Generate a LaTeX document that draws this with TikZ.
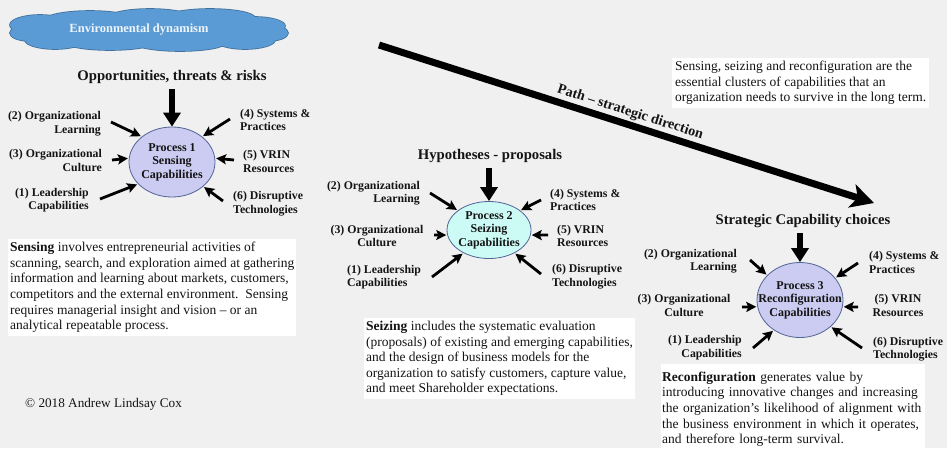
\documentclass[tikz,border=0pt]{standalone}
\usepackage{fontspec}
\setmainfont{Liberation Serif}
\usetikzlibrary{arrows.meta,shapes.geometric}

\definecolor{bg}{RGB}{240,240,240}
\definecolor{cloudfill}{RGB}{91,155,213}
\definecolor{cloudline}{RGB}{65,113,156}
\definecolor{lav}{RGB}{204,204,242}
\definecolor{cyanfill}{RGB}{204,250,245}
\definecolor{ellline}{RGB}{80,100,150}
\definecolor{ink}{RGB}{20,20,20}

\tikzset{
  lbl/.style={font=\fontsize{11.8}{13.5}\selectfont\bfseries, inner sep=0pt, text=ink},
  ttl/.style={font=\fontsize{14.7}{17}\selectfont\bfseries, inner sep=0pt, text=ink},
  body/.style={font=\fontsize{13.5}{15.6}\selectfont, align=left, fill=white, text=ink,
    inner xsep=2pt, inner ysep=3pt, anchor=north west},
  proc/.style={ellipse, draw=ellline, line width=0.8pt, inner sep=0pt},
  proctext/.style={align=center, inner sep=0pt, text=ink, font=\fontsize{12}{13.5}\selectfont\bfseries},
  feed/.style={line width=2.8pt, -{Stealth[length=10pt,width=10pt,inset=2pt]}, shorten >=1pt},
  drive/.style={line width=6.5pt, -{Triangle[length=14pt,width=17pt]}},
  patharrow/.style={line width=7pt, -{Stealth[length=23pt,width=24pt,inset=6pt]}},
}

% lobes of the cloud outline: centre x, centre y, x radius, y radius
\newcommand\cloudlobes[1]{%
  \foreach \cx/\cy/\rx/\ry in {150/30/120/17, 40/25/30/10, 30/33/20/8, 55/40/30/9,
      90/20/45/9, 150/17/40/8, 210/18/45/9, 255/26/30/9, 268/33/20/8, 245/40/30/9,
      110/42/45/8, 180/43/45/8}
    {#1 (\cx,\cy) ellipse [x radius=\rx, y radius=\ry];}}

\begin{document}
\begin{tikzpicture}[x=1pt,y=-1pt]
  \useasboundingbox (0,0) rectangle (947,448);
  \fill[bg] (0,0) rectangle (947,448);

  % environment cloud: outline of every lobe, then the fill on top leaves the union's edge
  \cloudlobes{\draw[cloudline, line width=1.6pt]}
  \cloudlobes{\fill[cloudfill]}
  \node[font=\fontsize{12.5}{14}\selectfont\bfseries, text=white!90!cloudfill, inner sep=0pt]
        (envtext) at (139,30) {Environmental dynamism};

  % strategic path
  \coordinate (pathS) at (379,45);
  \coordinate (pathE) at (874,203);
  \draw[patharrow] (pathS) -- (pathE)
     node[pos=0.5, sloped, above=2pt, font=\fontsize{14.2}{16}\selectfont\bfseries, text=ink, inner sep=0pt]
     (pathlbl) {Path -- strategic direction};

  \node[body, inner xsep=3pt] (summary) at (672,58)
     {Sensing, seizing and reconfiguration are the\\
      essential clusters of capabilities that an\\
      organization needs to survive in the long term.};

  % ---------------- Process 1 ----------------
  \node[ttl] (t1) at (172,77) {Opportunities, threats \& risks};
  \node[proc, fill=lav, minimum width=86pt, minimum height=70pt] (p1) at (172,162) {};
  \node[proctext] (p1txt) at (p1.center) {Process 1\\Sensing\\Capabilities};
  \draw[drive] (t1.south -| p1.north) ++(0,5) coordinate (d1) (d1) -- (p1.north);

  \node[lbl, anchor=east, align=right] (a2) at (101,123.5) {(2) Organizational\\Learning};
  \node[lbl, anchor=east, align=right] (a3) at (102,160.5) {(3) Organizational\\Culture};
  \node[lbl, anchor=east, align=right] (a1) at (89,200) {(1) Leadership\\Capabilities};
  \node[lbl, anchor=west, align=left] (a4) at (240,120) {(4) Systems \&\\Practices};
  \node[lbl, anchor=west, align=left] (a5) at (243,161.5) {(5) VRIN\\Resources};
  \node[lbl, anchor=west, align=left] (a6) at (233,203.5) {(6) Disruptive\\Technologies};

  \coordinate (a2t) at (111,122);  \draw[feed] (a2t) -- (p1.140);
  \coordinate (a3t) at (112,160);  \draw[feed] (a3t) -- (p1.175);
  \coordinate (a1t) at (100,199);  \draw[feed] (a1t) -- (p1.213);
  \coordinate (a4t) at (230,119);  \draw[feed] (a4t) -- (p1.40);
  \coordinate (a5t) at (234,160);  \draw[feed] (a5t) -- (p1.5);
  \coordinate (a6t) at (223,201);  \draw[feed] (a6t) -- (p1.322);

  \node[body] (sensing) at (8,239)
     {\textbf{Sensing} involves entrepreneurial activities of\\
      scanning, search, and exploration aimed at gathering\\
      information and learning about markets, customers,\\
      competitors and the external environment.\ \ Sensing\\
      requires managerial insight and vision -- or an\\
      analytical repeatable process.};

  \node[font=\fontsize{13.2}{15}\selectfont, text=ink, inner sep=0pt, anchor=west]
     (copy) at (25,404) {\textcopyright\ 2018 Andrew Lindsay Cox};

  % ---------------- Process 2 ----------------
  \node[ttl] (t2) at (490,156) {Hypotheses - proposals};
  \node[proc, fill=cyanfill, minimum width=84pt, minimum height=57pt] (p2) at (489,230) {};
  \node[proctext] (p2txt) at (p2.center) {Process 2\\Seizing\\Capabilities};
  \draw[drive] (t2.south -| p2.north) ++(0,5) coordinate (d2) (d2) -- (p2.north);

  \node[lbl, anchor=east, align=right] (b2) at (420,193) {(2) Organizational\\Learning};
  \node[lbl, align=center] (b3) at (377,236) {(3) Organizational\\Culture};
  \node[lbl, anchor=west, align=left] (b1) at (347,277) {(1) Leadership\\Capabilities};
  \node[lbl, anchor=west, align=left] (b4) at (550,200) {(4) Systems \&\\Practices};
  \node[lbl, anchor=west, align=left] (b5) at (557,236) {(5) VRIN\\Resources};
  \node[lbl, anchor=west, align=left] (b6) at (552,276.5) {(6) Disruptive\\Technologies};

  \coordinate (b2t) at (430,193);  \draw[feed] (b2t) -- (p2.148);
  \coordinate (b3t) at (434,235);  \draw[feed] (b3t) -- (p2.187);
  \coordinate (b1t) at (432,277);  \draw[feed] (b1t) -- (p2.222);
  \coordinate (b4t) at (541,200);  \draw[feed] (b4t) -- (p2.32);
  \coordinate (b5t) at (548,235);  \draw[feed] (b5t) -- (p2.353);
  \coordinate (b6t) at (541,274);  \draw[feed] (b6t) -- (p2.318);

  \node[body] (seizing) at (364,318)
     {\textbf{Seizing} includes the systematic evaluation\\
      (proposals) of existing and emerging capabilities,\\
      and the design of business models for the\\
      organization to satisfy customers, capture value,\\
      and meet Shareholder expectations.};

  % ---------------- Process 3 ----------------
  \node[ttl] (t3) at (803,221) {Strategic Capability choices};
  \node[proc, fill=lav, minimum width=86pt, minimum height=75pt] (p3) at (800,300) {};
  \node[proctext] (p3txt) at (p3.center) {Process 3\\Reconfiguration\\Capabilities};
  \draw[drive] (t3.south -| p3.north) ++(0,5) coordinate (d3) (d3) -- (p3.north);

  \node[lbl, anchor=east, align=right] (c2) at (737,261) {(2) Organizational\\Learning};
  \node[lbl, align=center] (c3) at (684,305.5) {(3) Organizational\\Culture};
  \node[lbl, anchor=east, align=right] (c1) at (742,347.5) {(1) Leadership\\Capabilities};
  \node[lbl, anchor=west, align=left] (c4) at (869,262.5) {(4) Systems \&\\Practices};
  \node[lbl, align=center] (c5) at (898,305.5) {(5) VRIN\\Resources};
  \node[lbl, anchor=west, align=left] (c6) at (873,349) {(6) Disruptive\\Technologies};

  \coordinate (c2t) at (750,260);  \draw[feed] (c2t) -- (p3.143);
  \coordinate (c3t) at (742,307);  \draw[feed] (c3t) -- (p3.189);
  \coordinate (c1t) at (753,348);  \draw[feed] (c1t) -- (p3.229);
  \coordinate (c4t) at (858,263);  \draw[feed] (c4t) -- (p3.32);
  \coordinate (c5t) at (858,307);  \draw[feed] (c5t) -- (p3.351);
  \coordinate (c6t) at (862,348);  \draw[feed] (c6t) -- (p3.319);

  \node[body, inner xsep=1pt, minimum height=90pt, text width=262pt] (reconf) at (661,364)
     {\textbf{Reconfiguration} generates value by\\
      introducing innovative changes and increasing\\
      the organization’s likelihood of alignment with\\
      the business environment in which it operates,\\
      and therefore long-term survival.};
\end{tikzpicture}
\end{document}
